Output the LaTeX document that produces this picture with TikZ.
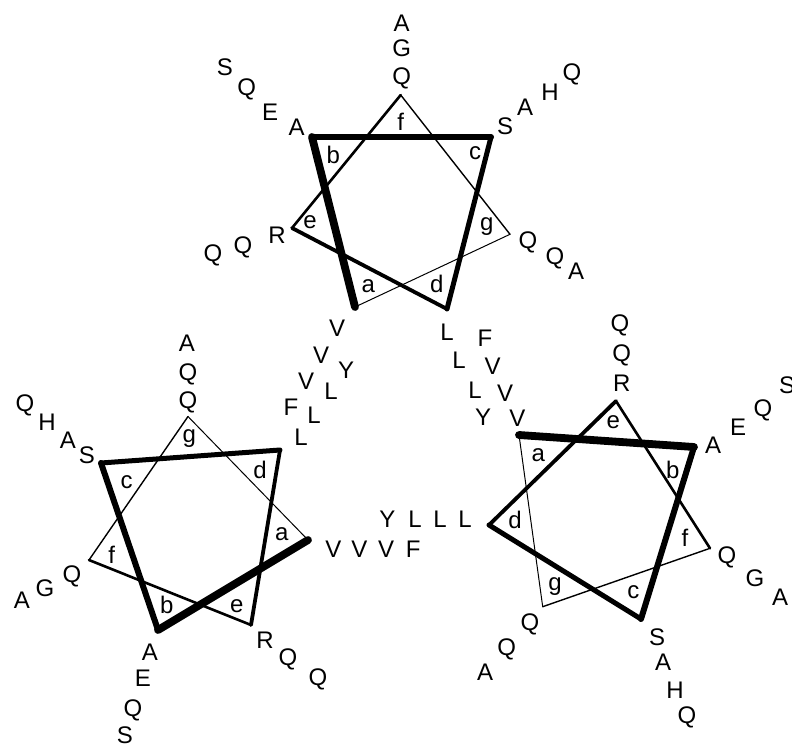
\documentclass[tikz,border=0pt]{standalone}
\usepackage{fontspec}
\setmainfont{Liberation Sans}
\begin{document}
\begin{tikzpicture}[x=1pt,y=-1pt,
  res/.style={inner sep=0pt,font=\fontsize{24}{24}\selectfont,text height=17.2pt,text depth=0pt,anchor=center},
  hx/.style={inner sep=0pt,font=\fontsize{24}{24}\selectfont,text height=12.5pt,text depth=0pt,anchor=center},
  ha/.style={inner sep=0pt,font=\fontsize{24}{24}\selectfont,text height=17.2pt,text depth=0pt,anchor=center},
  sab/.style={line width=7.8pt,line cap=round,line join=round},
  sbc/.style={line width=6pt,line cap=round,line join=round},
  scd/.style={line width=5pt,line cap=round,line join=round},
  sde/.style={line width=3.8pt,line cap=round,line join=round},
  sef/.style={line width=2.6pt,line cap=round,line join=round},
  sfg/.style={line width=1.4pt,line cap=round,line join=round},
  sga/.style={line width=1pt,line cap=round,line join=round}]
\useasboundingbox (0,0) rectangle (792,746);
\fill[white] (0,0) rectangle (792,746);

% ---------- top wheel ----------
\coordinate (T-f) at (400.7,95);
\coordinate (T-c) at (491,137);
\coordinate (T-g) at (510,234.3);
\coordinate (T-d) at (447,309);
\coordinate (T-a) at (355,307);
\coordinate (T-e) at (292,228);
\coordinate (T-b) at (312,137);
\draw[sga] (T-g) -- (T-a);
\draw[sfg] (T-f) -- (T-g);
\draw[sef] (T-e) -- (T-f);
\draw[sde] (T-d) -- (T-e);
\draw[scd] (T-c) -- (T-d);
\draw[sbc] (T-b) -- (T-c);
\draw[sab] (T-a) -- (T-b);
\node[ha] (T-hf) at (400.7,121.7) {f};
\node[ha] (T-hb) at (333.3,155) {b};
\node[hx] (T-hc) at (475,153) {c};
\node[hx] (T-he) at (310,222) {e};
\node[hx] (T-hg) at (486.7,224) {g};
\node[hx] (T-ha) at (368.3,286) {a};
\node[ha] (T-hd) at (436.7,284) {d};
% residues
\node[res] (T-f1) at (401.7,76) {Q};
\node[res] (T-f2) at (401.7,48.3) {G};
\node[res] (T-f3) at (401.7,23.3) {A};
\node[res] (T-c1) at (505,126) {S};
\node[res] (T-c2) at (525,107) {A};
\node[res] (T-c3) at (550,92) {H};
\node[res] (T-c4) at (572,72) {Q};
\node[res] (T-g1) at (528,240) {Q};
\node[res] (T-g2) at (555,256) {Q};
\node[res] (T-g3) at (576,271) {A};
\node[res] (T-d1) at (447,332) {L};
\node[res] (T-d2) at (459,360) {L};
\node[res] (T-d3) at (475,390) {L};
\node[res] (T-d4) at (483,417) {Y};
\node[res] (T-a1) at (337,328) {V};
\node[res] (T-a2) at (321,355) {V};
\node[res] (T-a3) at (306,381) {V};
\node[res] (T-a4) at (291,407) {F};
\node[res] (T-e1) at (277,235) {R};
\node[res] (T-e2) at (243,245) {Q};
\node[res] (T-e3) at (213,253) {Q};
\node[res] (T-b1) at (296.7,126.7) {A};
\node[res] (T-b2) at (270,111.7) {E};
\node[res] (T-b3) at (246.7,87.3) {Q};
\node[res] (T-b4) at (225,66.7) {S};

% ---------- left wheel ----------
\coordinate (L-g) at (188,416.5);
\coordinate (L-d) at (280,450);
\coordinate (L-a) at (308,540);
\coordinate (L-e) at (251,625);
\coordinate (L-b) at (158,630);
\coordinate (L-f) at (89,560);
\coordinate (L-c) at (101,463);
\draw[sga] (L-g) -- (L-a);
\draw[sfg] (L-f) -- (L-g);
\draw[sef] (L-e) -- (L-f);
\draw[sde] (L-d) -- (L-e);
\draw[scd] (L-c) -- (L-d);
\draw[sbc] (L-b) -- (L-c);
\draw[sab] (L-a) -- (L-b);
\node[hx] (L-hg) at (189.3,436) {g};
\node[hx] (L-hc) at (126.7,482) {c};
\node[ha] (L-hd) at (260,470) {d};
\node[hx] (L-ha) at (281.7,534) {a};
\node[ha] (L-hf) at (111.7,555) {f};
\node[ha] (L-hb) at (166.7,605) {b};
\node[hx] (L-he) at (236.7,606) {e};
\node[res] (L-g1) at (188,400) {Q};
\node[res] (L-g2) at (188,372) {Q};
\node[res] (L-g3) at (187,343) {A};
\node[res] (L-c1) at (87,455) {S};
\node[res] (L-c2) at (68,440) {A};
\node[res] (L-c3) at (47,422) {H};
\node[res] (L-c4) at (25,403) {Q};
\node[res] (L-f1) at (72,574) {Q};
\node[res] (L-f2) at (45,588) {G};
\node[res] (L-f3) at (22,600) {A};
\node[res] (L-b1) at (150,652) {A};
\node[res] (L-b2) at (143,678) {E};
\node[res] (L-b3) at (133,708) {Q};
\node[res] (L-b4) at (125,735) {S};
\node[res] (L-e1) at (265,640) {R};
\node[res] (L-e2) at (288,657) {Q};
\node[res] (L-e3) at (318,677) {Q};
\node[res] (L-d1) at (301,437) {L};
\node[res] (L-d2) at (314,415) {L};
\node[res] (L-d3) at (331,391) {L};
\node[res] (L-d4) at (346,370) {Y};
\node[res] (L-a1) at (333.3,549.3) {V};
\node[res] (L-a2) at (359.3,549.3) {V};
\node[res] (L-a3) at (386,549.3) {V};
\node[res] (L-a4) at (413.3,549.3) {F};

% ---------- right wheel ----------
\coordinate (R-e) at (616,401);
\coordinate (R-b) at (694,447);
\coordinate (R-f) at (710,548.3);
\coordinate (R-c) at (641,619);
\coordinate (R-g) at (542.7,606.7);
\coordinate (R-d) at (489,525);
\coordinate (R-a) at (519,435);
\draw[sga] (R-g) -- (R-a);
\draw[sfg] (R-f) -- (R-g);
\draw[sef] (R-e) -- (R-f);
\draw[sde] (R-d) -- (R-e);
\draw[scd] (R-c) -- (R-d);
\draw[sbc] (R-b) -- (R-c);
\draw[sab] (R-a) -- (R-b);
\node[hx] (R-he) at (613.3,422) {e};
\node[hx] (R-ha) at (538.3,455) {a};
\node[ha] (R-hb) at (672.7,470) {b};
\node[ha] (R-hd) at (515,520) {d};
\node[ha] (R-hf) at (685,538.3) {f};
\node[hx] (R-hg) at (555,584) {g};
\node[hx] (R-hc) at (633.3,592) {c};
\node[res] (R-e1) at (621.7,383) {R};
\node[res] (R-e2) at (621.7,353) {Q};
\node[res] (R-e3) at (620,323) {Q};
\node[res] (R-b1) at (713,445) {A};
\node[res] (R-b2) at (738,427) {E};
\node[res] (R-b3) at (763,408) {Q};
\node[res] (R-b4) at (787,385) {S};
\node[res] (R-f1) at (727,555) {Q};
\node[res] (R-f2) at (755,578) {G};
\node[res] (R-f3) at (780,597) {A};
\node[res] (R-c1) at (657,637) {S};
\node[res] (R-c2) at (663,662) {A};
\node[res] (R-c3) at (675,690) {H};
\node[res] (R-c4) at (687,715) {Q};
\node[res] (R-g1) at (530,622) {Q};
\node[res] (R-g2) at (506.7,646.7) {Q};
\node[res] (R-g3) at (485,671.7) {A};
\node[res] (R-d1) at (465,519.3) {L};
\node[res] (R-d2) at (440,519.3) {L};
\node[res] (R-d3) at (415,519.3) {L};
\node[res] (R-d4) at (387.3,519.3) {Y};
\node[res] (R-a1) at (517.3,418.3) {V};
\node[res] (R-a2) at (505,392.7) {V};
\node[res] (R-a3) at (492.7,366) {V};
\node[res] (R-a4) at (485,338) {F};
\end{tikzpicture}
\end{document}
